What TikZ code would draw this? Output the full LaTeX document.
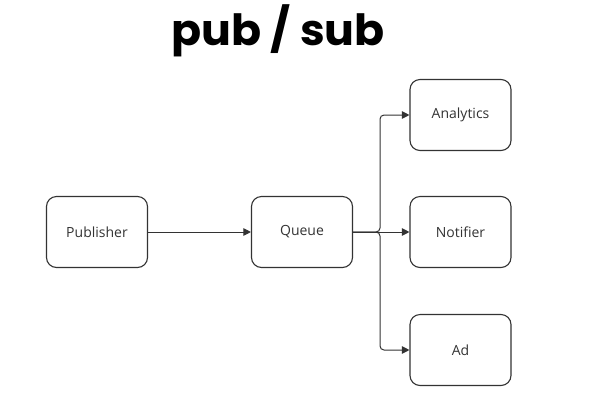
\documentclass[tikz,border=0pt]{standalone}
\usepackage{fontspec}
\setmainfont{Open Sans}
\newfontfamily\titlefont{Poppins}
\usetikzlibrary{arrows.meta}
\definecolor{ink}{HTML}{333333}
\begin{document}
\begin{tikzpicture}[x=1pt,y=-1pt,
  box/.style={draw=ink,line width=1.1pt,rounded corners=10pt,minimum width=101pt,minimum height=71pt,text=ink,font=\fontsize{14}{16}\selectfont,inner sep=0pt},
  conn/.style={draw=ink,line width=1pt,-{Triangle[length=7.5pt,width=7.5pt]},rounded corners=4pt}]
\useasboundingbox (0,0) rectangle (607,400);
\node[font=\titlefont\bfseries\fontsize{43}{46}\selectfont,xscale=1.03] (title) at (278,31) {pub / sub};
\node[box] (pub) at (97,232) {Publisher};
\node[box] (queue) at (302,232) {Queue};
\node[box] (ana) at (460.5,115) {Analytics};
\node[box] (notif) at (460.5,232) {Notifier};
\node[box] (ad) at (460.5,350) {Ad};
\coordinate (j) at (380,232);
\draw[conn] (pub) -- (queue);
\draw[conn] (queue) -- (j) |- (ana);
\draw[conn] (queue) -- (notif);
\draw[conn] (queue) -- (j) |- (ad);
\end{tikzpicture}
\end{document}
